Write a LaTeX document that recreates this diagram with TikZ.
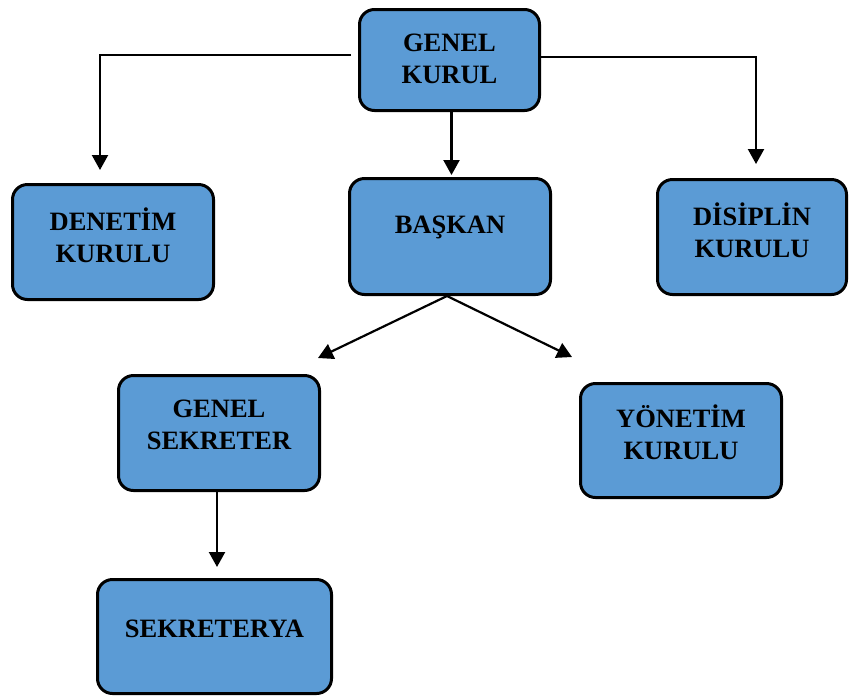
\documentclass[tikz,border=0pt]{standalone}
\usepackage{fontspec}
\setmainfont{Liberation Serif}
\usepackage{tikz}
\usetikzlibrary{positioning,arrows.meta}
\definecolor{boxblue}{RGB}{91,155,213}
\tikzset{
  orgbox/.style={draw=black, line width=3pt, fill=boxblue, rounded corners=15pt, inner sep=0pt},
  orgtext/.style={align=center, font=\fontsize{26.5}{32}\selectfont\bfseries, inner sep=0pt},
  link/.style={line width=2.2pt, -{Triangle[width=16pt,length=15pt]}}
}
\begin{document}
\begin{tikzpicture}[x=1pt, y=-1pt]
  \useasboundingbox (0,0) rectangle (850,697);
  % kutular
  \node[orgbox, minimum width=180pt, minimum height=101pt] (gk) at (449.5,60) {};
  \node[orgbox, minimum width=201pt, minimum height=115pt] (den) at (113,242) {};
  \node[orgbox, minimum width=201pt, minimum height=116pt] (bas) at (450,236.5) {};
  \node[orgbox, minimum width=189pt, minimum height=115pt] (dis) at (752,237) {};
  \node[orgbox, minimum width=201pt, minimum height=115pt] (gs) at (219,433) {};
  \node[orgbox, minimum width=201pt, minimum height=114pt] (yon) at (681,440.5) {};
  \node[orgbox, minimum width=234pt, minimum height=114pt] (sek) at (214.5,636.5) {};
  % yazilar
  \node[orgtext] (gkT) at ([yshift=1pt]gk.center) {GENEL\\KURUL};
  \node[orgtext] (denT) at ([yshift=7pt]den.center) {DENETİM\\KURULU};
  \node[orgtext] (basT) at ([yshift=9pt]bas.center) {BAŞKAN};
  \node[orgtext] (disT) at ([yshift=7pt]dis.center) {DİSİPLİN\\KURULU};
  \node[orgtext] (gsT) at ([yshift=8pt]gs.center) {GENEL\\SEKRETER};
  \node[orgtext] (yonT) at ([yshift=8pt]yon.center) {YÖNETİM\\KURULU};
  \node[orgtext] (sekT) at ([yshift=8pt]sek.center) {SEKRETERYA};
  % oklar
  \coordinate (lTip) at (318,358);
  \coordinate (rTip) at (572,357);
  \draw[link, shorten >=13pt] ([shift={(-7pt,5pt)}]gk.west) -| ([xshift=-13pt]den.north);
  \draw[link, shorten >=14pt] ([shift={(-3pt,3pt)}]gk.east) -| ([xshift=4pt]dis.north);
  \draw[link, shorten >=2pt] ([xshift=2pt]gk.south) -- ([xshift=2pt]gk.south |- bas.north);
  \draw[link] ([xshift=-3pt]bas.south) -- (lTip);
  \draw[link] ([xshift=-3pt]bas.south) -- (rTip);
  \draw[link, shorten >=11pt] ([xshift=-2pt]gs.south) -- ([xshift=-2pt]gs.south |- sek.north);
\end{tikzpicture}
\end{document}
